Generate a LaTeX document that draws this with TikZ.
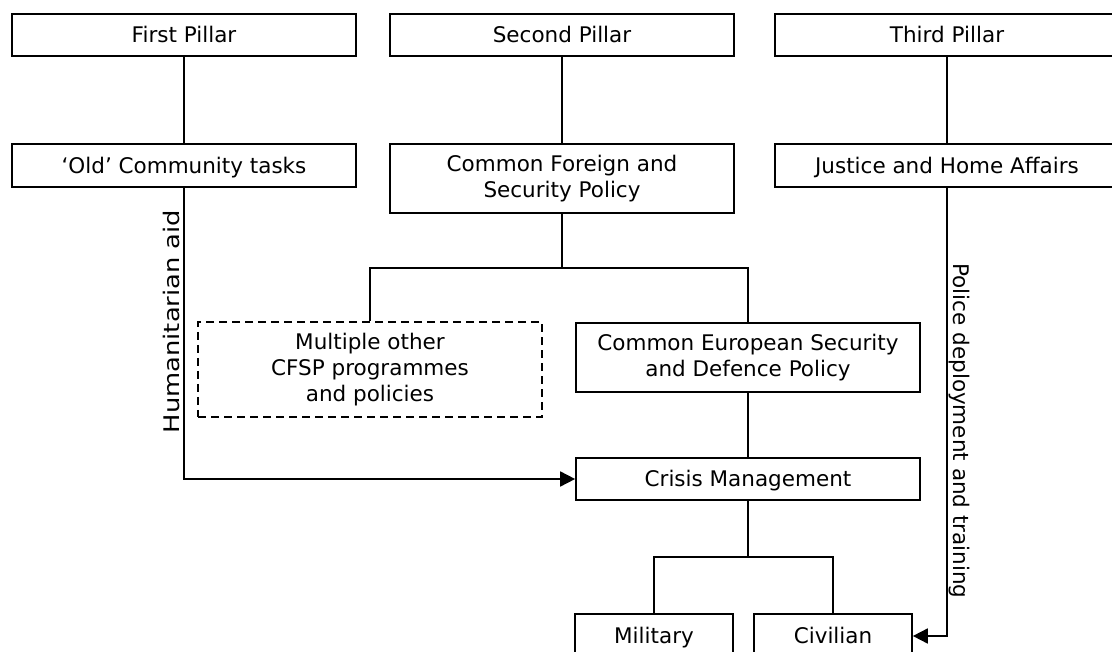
\documentclass[tikz,border=0pt]{standalone}
\usepackage{fontspec}
\setmainfont{DejaVu Sans}
\usetikzlibrary{arrows.meta,positioning}

\begin{document}
\begin{tikzpicture}[x=1pt,y=-1pt,
  box/.style={draw,line width=1.7pt,inner sep=0pt,align=center,
    minimum width=344pt,minimum height=42pt,
    font=\fontsize{21.5}{26}\selectfont},
  one/.style={box,text height=15.6pt,text depth=0pt},
  otherbox/.style={box,dash pattern=on 8pt off 5pt},
  link/.style={line width=1.8pt},
  tip/.style={-{Triangle[length=15pt,width=15pt]}},
  side/.style={font=\fontsize{21.5}{26}\selectfont,inner sep=0pt}]
\useasboundingbox (0,0) rectangle (1112,652);
\clip (0,0) rectangle (1112,652);

% pillars
\node[one] (p1) at (184,35) {First Pillar};
\node[one] (p2) at (562,35) {Second Pillar};
\node[one] (p3) at (947,35) {Third Pillar};

\node[one,minimum height=43pt] (old) at (184,165.5) {`Old' Community tasks};
\node[box,minimum height=69pt] (cfsp) at (562,178.5) {Common Foreign and\\Security Policy};
\node[one,minimum height=43pt] (jha) at (947,165.5) {Justice and Home Affairs};

\node[otherbox,minimum height=95pt] (other) at (370,369.5) {Multiple other\\CFSP programmes\\and policies};
\node[box,minimum height=69pt] (esdp) at (748,357.5) {Common European Security\\and Defence Policy};
\node[one] (crisis) at (748,479) {Crisis Management};
\node[one,minimum width=158pt,minimum height=44pt] (mil) at (654,636) {Military};
\node[one,minimum width=158pt,minimum height=44pt] (civ) at (833,636) {Civilian};

\coordinate (cfspfork) at (562,268);
\coordinate (crisfork) at (748,557);

\draw[link] (p1) -- (old);
\draw[link] (p2) -- (cfsp);
\draw[link] (p3) -- (jha);

\draw[link] (cfsp) -- (cfspfork);
\draw[link] (other.north) |- (cfspfork) -| (esdp.north);
\draw[link] (esdp) -- (crisis);
\draw[link] (crisis) -- (crisfork);
\draw[link] (mil.north) |- (crisfork) -| (civ.north);

\draw[link,tip] (old.south) |- (crisis.west);
\draw[link,tip] (jha.south) |- (civ.east);

\node[side,rotate=90] (hum) at (171,321.5) {\scalebox{1.2}[1]{Humanitarian aid}};
\node[side,rotate=-90] (pol) at (959,431) {Police deployment and training};
\end{tikzpicture}
\end{document}
